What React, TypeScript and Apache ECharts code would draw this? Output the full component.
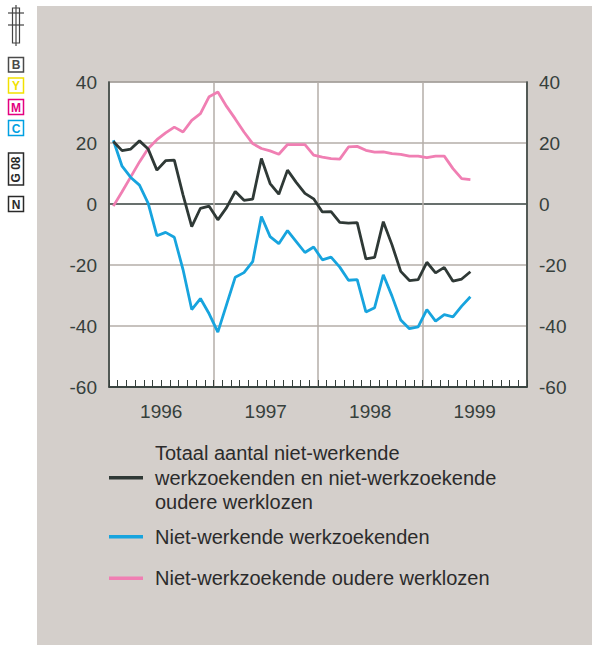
import React, { useEffect, useRef } from "react";
import * as echarts from "echarts";

const years = ["1996", "1997", "1998", "1999"];
const months = years.flatMap((y) =>
  Array.from({ length: 12 }, (_, m) => `${y}-${String(m + 1).padStart(2, "0")}`)
);
const yTicks = { min: -60, max: 40, interval: 20 };

const nameTotaal = "Totaal aantal niet-werkende\nwerkzoekenden en niet-werkzoekende\noudere werklozen";
const nameNww = "Niet-werkende werkzoekenden";
const nameOud = "Niet-werkzoekende oudere werklozen";

const totaal = [
  20.5, 17.5, 18.0, 20.7, 18.0, 11.1, 14.2, 14.4, 3.0, -7.4, -1.4, -0.7,
  -5.2, -1.2, 4.1, 1.2, 1.6, 14.9, 6.7, 3.2, 11.1, 7.1, 3.5, 1.7,
  -2.6, -2.5, -6.0, -6.3, -6.1, -18.0, -17.5, -5.8, -13.4, -22.1, -25.1, -24.8,
  -19.1, -22.6, -20.8, -25.3, -24.6, -22.2,
];
const nietWerkend = [
  20.9, 12.4, 8.7, 6.2, 0.2, -10.4, -9.3, -10.9, -21.5, -34.6, -31.0, -36.0,
  -42.0, -33.0, -24.0, -22.5, -18.9, -4.1, -10.7, -13.0, -8.7, -12.3, -15.9, -14.1,
  -18.3, -17.4, -20.7, -25.0, -24.8, -35.4, -34.0, -23.2, -30.2, -38.0, -40.9, -40.3,
  -34.6, -38.4, -36.3, -37.0, -33.5, -30.4,
];
const ouderen = [
  -0.7, 4.0, 8.9, 13.8, 18.2, 21.1, 23.3, 25.2, 23.6, 27.4, 29.6, 35.2,
  36.7, 32.0, 27.9, 23.6, 19.8, 18.2, 17.4, 16.3, 19.5, 19.5, 19.5, 16.0,
  15.4, 14.9, 14.7, 18.7, 18.9, 17.6, 17.0, 17.1, 16.5, 16.3, 15.7, 15.7,
  15.2, 15.7, 15.7, 11.6, 8.3, 8.0,
];

const FONT = "'Liberation Sans', Arial, Helvetica, sans-serif";
const DARK = "#36403c";
const GRID = "#b4aea9";
const C_BLACK = "#2f3936";
const C_BLUE = "#17a4de";
const C_PINK = "#f07fb3";

function box(x: number, y: number, h: number, color: string, label: string, rotate = false) {
  return {
    type: "group",
    children: [
      { type: "rect", shape: { x, y, width: 15, height: h }, style: { fill: "#fff", stroke: color, lineWidth: 1.5 } },
      {
        type: "text",
        x: x + 7.5,
        y: y + h / 2 + 0.5,
        rotation: rotate ? Math.PI / 2 : 0,
        style: {
          text: label,
          fill: color,
          font: `bold 12px ${FONT}`,
          align: "center",
          verticalAlign: "middle",
        },
      },
    ],
  };
}

export default function App() {
  const ref = useRef<HTMLDivElement>(null);
  useEffect(() => {
    if (!ref.current) return;
    const chart = echarts.init(ref.current, undefined, { renderer: "svg" });
    const legendBase = {
      orient: "vertical",
      left: 109,
      padding: 0,
      itemWidth: 34,
      itemHeight: 3.5,
      icon: "rect",
      textStyle: {
        fontFamily: FONT,
        fontSize: 20,
        lineHeight: 24.5,
        color: "#2b2b2b",
        padding: [0, 0, 0, 7],
      },
    };
    chart.setOption({
      animation: false,
      backgroundColor: "#ffffff",
      graphic: [
        { type: "rect", z: -10, shape: { x: 37, y: 6, width: 560, height: 645 }, style: { fill: "#d4cfcb" } },
        {
          type: "group",
          children: [
            { type: "rect", shape: { x: 12.5, y: 8, width: 7, height: 35 }, style: { fill: "none", stroke: "#444", lineWidth: 1.2 } },
            { type: "line", shape: { x1: 16, y1: 5, x2: 16, y2: 46 }, style: { stroke: "#444", lineWidth: 1.2 } },
            { type: "line", shape: { x1: 8, y1: 13, x2: 24, y2: 13 }, style: { stroke: "#444", lineWidth: 1.2 } },
            { type: "line", shape: { x1: 8, y1: 25, x2: 24, y2: 25 }, style: { stroke: "#444", lineWidth: 1.2 } },
          ],
        },
        box(8.5, 57.5, 14.5, "#4a4a4a", "B"),
        box(8.5, 78, 15, "#f2e100", "Y"),
        box(8.5, 99.5, 15, "#e4007f", "M"),
        box(8.5, 120.5, 15, "#00a0e2", "C"),
        box(8.5, 153, 32, "#2a2a2a", "G 08", true),
        box(8.5, 196.5, 15, "#2a2a2a", "N"),
      ],
      grid: {
        left: 109,
        right: 65,
        top: 82,
        bottom: 258,
        show: true,
        backgroundColor: "#ffffff",
        borderColor: "#4b524f",
        borderWidth: 1.2,
      },
      legend: [
        { ...legendBase, top: 441, data: [nameTotaal] },
        { ...legendBase, top: 524.5, data: [nameNww] },
        { ...legendBase, top: 566, data: [nameOud] },
      ],
      xAxis: [
        {
          type: "category",
          data: months,
          boundaryGap: true,
          position: "bottom",
          axisLine: { show: true, onZero: false, lineStyle: { color: DARK, width: 1.5 } },
          axisTick: { show: true, inside: true, interval: 0, length: 7, lineStyle: { color: DARK, width: 1 } },
          axisLabel: { show: false },
          splitLine: { show: false },
        },
        {
          type: "category",
          data: years,
          boundaryGap: true,
          position: "bottom",
          axisLine: { show: false },
          axisTick: { show: false },
          axisLabel: { show: true, interval: 0, margin: 15, fontFamily: FONT, fontSize: 19, color: DARK },
          splitLine: { show: true, interval: 0, lineStyle: { color: GRID, width: 1.5 } },
        },
      ],
      yAxis: [
        {
          type: "value",
          ...yTicks,
          position: "left",
          axisLine: { show: true, lineStyle: { color: DARK, width: 1.5 } },
          axisTick: { show: false },
          axisLabel: { margin: 12, fontFamily: FONT, fontSize: 19, color: DARK },
          splitLine: {
            show: true,
            lineStyle: { color: [DARK, GRID, GRID, DARK, GRID, GRID], width: 1.6 },
          },
        },
        {
          type: "value",
          ...yTicks,
          position: "right",
          axisLine: { show: true, lineStyle: { color: DARK, width: 1.5 } },
          axisTick: { show: false },
          axisLabel: { margin: 12, fontFamily: FONT, fontSize: 19, color: DARK },
          splitLine: { show: false },
        },
      ],
      series: [
        {
          name: nameOud,
          type: "line",
          data: ouderen,
          symbol: "none",
          color: C_PINK,
          lineStyle: { width: 2.8, color: C_PINK },
        },
        {
          name: nameNww,
          type: "line",
          data: nietWerkend,
          symbol: "none",
          color: C_BLUE,
          lineStyle: { width: 2.8, color: C_BLUE },
        },
        {
          name: nameTotaal,
          type: "line",
          data: totaal,
          symbol: "none",
          color: C_BLACK,
          lineStyle: { width: 2.8, color: C_BLACK },
        },
      ],
    });
    return () => chart.dispose();
  }, []);
  return (
    <div
      ref={ref}
      style={{ position: "absolute", left: 0, top: 0, width: 592, height: 645 }}
    />
  );
}
